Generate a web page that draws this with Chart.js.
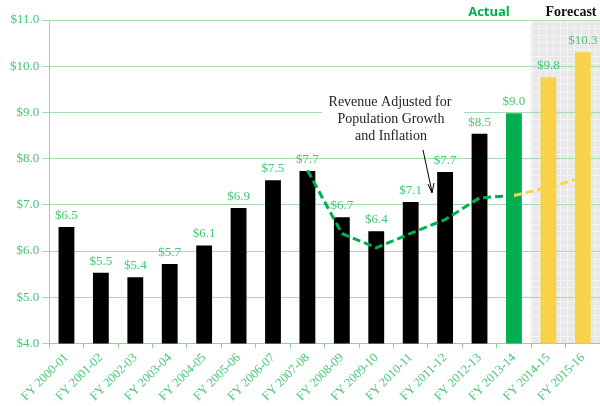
<!DOCTYPE html>
<html>
<head>
<meta charset="utf-8">
<script src="https://cdn.jsdelivr.net/npm/chart.js@4"></script>
<style>
  html, body { margin: 0; padding: 0; background: #fff; }
  #wrap { width: 600px; height: 406px; }
</style>
</head>
<body>
<div id="wrap"><canvas id="graph1"></canvas></div>
<script>
const categories = [
  'FY 2000-01', 'FY 2001-02', 'FY 2002-03', 'FY 2003-04', 'FY 2004-05',
  'FY 2005-06', 'FY 2006-07', 'FY 2007-08', 'FY 2008-09', 'FY 2009-10',
  'FY 2010-11', 'FY 2011-12', 'FY 2012-13', 'FY 2013-14', 'FY 2014-15', 'FY 2015-16'
];
const revenue = [6.52, 5.53, 5.43, 5.72, 6.12, 6.93, 7.53, 7.73, 6.73, 6.43, 7.06, 7.71, 8.54, 8.98, 9.76, 10.3];
const adjustedActual = [null, null, null, null, null, null, null, 7.75, 6.38, 6.07, 6.38, 6.68, 7.15, 7.2, null, null];
const adjustedForecast = [null, null, null, null, null, null, null, null, null, null, null, null, null, 7.2, 7.38, 7.58];
const yMin = 4, yMax = 11, yStep = 1;

const green = '#00b050';
const labelGreen = '#45c672';
const yellow = '#f8d34a';
const barColors = revenue.map((v, i) => i < 13 ? '#000000' : (i == 13 ? green : yellow));

// grey checkered pattern for forecast area
function makePattern(ctx) {
  const c = document.createElement('canvas');
  c.width = 7; c.height = 7;
  const p = c.getContext('2d');
  p.fillStyle = '#e8e8e8';
  p.fillRect(0, 0, 7, 7);
  p.fillStyle = '#f4f4f4';
  p.fillRect(0, 0, 7, 1);
  p.fillRect(0, 0, 1, 7);
  return ctx.createPattern(c, 'repeat');
}

const extras = {
  id: 'extras',
  beforeDraw(chart) {
    const ctx = chart.ctx, area = chart.chartArea, x = chart.scales.x;
    const left = (x.getPixelForValue(13) + x.getPixelForValue(14)) / 2;
    ctx.save();
    ctx.fillStyle = makePattern(ctx);
    ctx.fillRect(left, area.top, area.right - left, area.bottom - area.top);
    ctx.restore();
  },
  afterDatasetsDraw(chart) {
    const ctx = chart.ctx;
    const meta = chart.getDatasetMeta(2);
    ctx.save();
    // value labels
    ctx.font = '13px "Liberation Serif"';
    ctx.fillStyle = labelGreen;
    ctx.textAlign = 'center';
    ctx.textBaseline = 'bottom';
    meta.data.forEach((bar, i) => {
      ctx.fillText('$' + revenue[i].toFixed(1), bar.x, bar.y - 5);
    });
    // annotation box
    ctx.fillStyle = '#ffffff';
    ctx.fillRect(322, 94, 142, 50);
    ctx.fillStyle = '#222222';
    ctx.font = '14px "Liberation Serif"';
    ctx.textBaseline = 'middle';
    ctx.fillText('Revenue Adjusted for', 390, 102);
    ctx.fillText('Population Growth', 391, 119);
    ctx.fillText('and Inflation', 391, 136);
    // arrow
    ctx.strokeStyle = '#000';
    ctx.lineWidth = 1;
    ctx.beginPath();
    ctx.moveTo(423, 150);
    ctx.lineTo(432, 192);
    ctx.stroke();
    ctx.beginPath();
    ctx.moveTo(428, 184);
    ctx.lineTo(432, 193);
    ctx.lineTo(434, 183);
    ctx.stroke();
    // headers
    ctx.fillStyle = green;
    ctx.font = 'bold 13px "Open Sans"';
    ctx.fillText('Actual', 489, 12);
    ctx.fillStyle = '#111';
    ctx.font = 'bold 14px "Liberation Serif"';
    ctx.fillText('Forecast', 571, 12);
    ctx.restore();
  }
};

new Chart(document.getElementById('graph1').getContext('2d'), {
  type: 'bar',
  data: {
    labels: categories,
    datasets: [
      {
        type: 'line',
        data: adjustedActual,
        borderColor: green,
        borderWidth: 3,
        borderDash: [8, 4],
        pointRadius: 0,
        fill: false,
        order: 0
      },
      {
        type: 'line',
        data: adjustedForecast,
        borderColor: yellow,
        borderWidth: 3,
        borderDash: [8, 4],
        pointRadius: 0,
        fill: false,
        order: 0
      },
      {
        label: 'Revenue',
        data: revenue,
        backgroundColor: barColors,
        borderWidth: 0,
        categoryPercentage: 1,
        barPercentage: 0.46,
        order: 1
      }
    ]
  },
  options: {
    responsive: true,
    maintainAspectRatio: false,
    animation: false,
    plugins: {
      legend: { display: false },
      tooltip: { enabled: false }
    },
    layout: {
      padding: { top: 20, right: 0, left: 7, bottom: 0 }
    },
    scales: {
      x: {
        grid: {
          drawOnChartArea: false,
          drawTicks: true,
          tickLength: 5,
          color: '#8fd49c'
        },
        border: { color: '#8fd49c', width: 1 },
        ticks: {
          color: labelGreen,
          font: { family: 'Liberation Serif', size: 12.5 },
          maxRotation: 45,
          minRotation: 45,
          autoSkip: false,
          padding: 2
        }
      },
      y: {
        min: yMin,
        max: yMax,
        grid: {
          color: '#a7dcb1',
          tickLength: 7
        },
        border: { color: '#8fd49c', width: 1 },
        ticks: {
          stepSize: yStep,
          color: labelGreen,
          font: { family: 'Liberation Serif', size: 13 },
          padding: 3,
          callback: v => '$' + Number(v).toFixed(1)
        }
      }
    }
  },
  plugins: [extras]
});
</script>
</body>
</html>
